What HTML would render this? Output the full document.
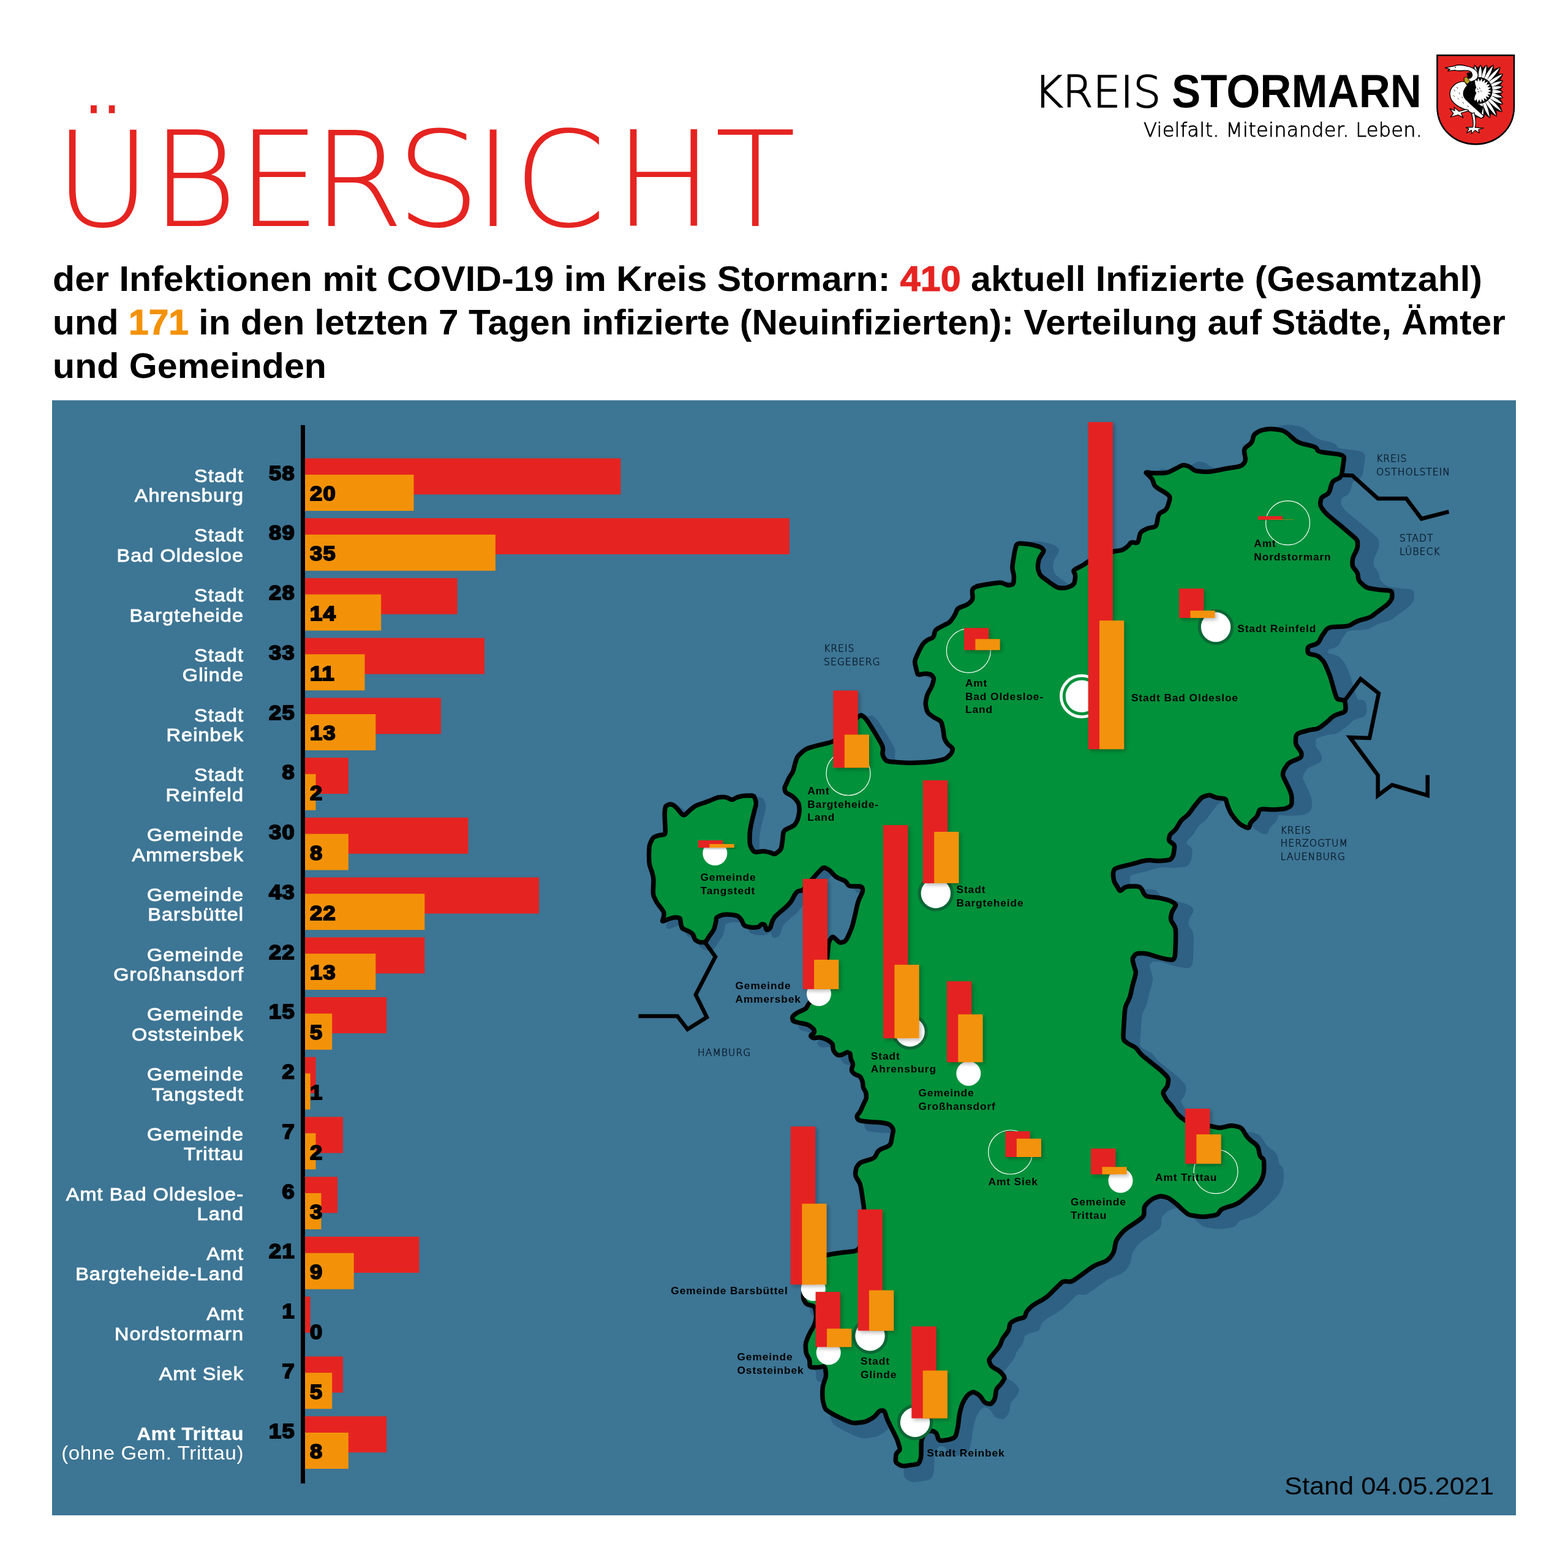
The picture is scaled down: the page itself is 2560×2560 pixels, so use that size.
<!DOCTYPE html>
<html lang="de"><head><meta charset="utf-8"><title>Übersicht COVID-19 Kreis Stormarn</title>
<style>
html,body{margin:0;padding:0;background:#fff;}
body{width:2560px;height:2560px;overflow:hidden;}
svg{display:block;}
text{font-family:"Liberation Sans", sans-serif;}
.lab{fill:#fff;font-size:30px;letter-spacing:1.0px;stroke:#fff;stroke-width:0.9px;text-anchor:end;}
.labb{fill:#fff;font-size:30px;letter-spacing:0.6px;font-weight:bold;stroke:#fff;stroke-width:0.3px;text-anchor:end;}
.labl{fill:#fff;font-size:30.5px;letter-spacing:0.6px;text-anchor:end;}
.num{fill:#000;font-size:33px;font-weight:bold;stroke:#000;stroke-width:2px;letter-spacing:1.3px;}
.ml{fill:#000;font-size:16.2px;font-weight:bold;letter-spacing:0.84px;}
.nl{fill:#0b1d2e;font-size:15.6px;letter-spacing:1.0px;font-family:"DejaVu Sans Light","DejaVu Sans","Liberation Sans",sans-serif;font-weight:200;stroke:#0b1d2e;stroke-width:0.55px;}
.hd{fill:#000;font-size:57px;font-weight:bold;}
</style></head><body>
<svg width="2560" height="2560" viewBox="0 0 2560 2560">
<defs>
<filter id="ds" x="-20%" y="-20%" width="160%" height="140%"><feGaussianBlur in="SourceAlpha" stdDeviation="3"/><feOffset dx="3" dy="3"/><feComponentTransfer><feFuncA type="linear" slope="0.28"/></feComponentTransfer><feMerge><feMergeNode/><feMergeNode in="SourceGraphic"/></feMerge></filter>
<clipPath id="panel"><rect x="85" y="653.5" width="2390" height="1820.5"/></clipPath>
<path id="land" d="M1607.1 954.8 Q1613.0 953.8 1619.7 952.8 L1627.3 951.7 Q1634.0 950.7 1637.8 952.4 L1642.2 954.3 Q1646.0 956.0 1648.8 955.3 L1651.8 954.5 Q1654.6 953.8 1655.0 949.8 L1655.3 945.4 Q1655.7 941.4 1654.7 936.8 L1653.5 931.6 Q1652.5 927.0 1653.2 922.3 L1653.9 917.1 Q1654.6 912.4 1655.3 908.4 L1656.0 904.0 Q1656.7 900.0 1657.8 895.8 L1658.9 891.2 Q1660.0 887.0 1666.2 887.3 L1673.3 887.7 Q1679.5 888.0 1685.7 889.6 L1692.8 891.4 Q1699.0 893.0 1700.9 894.9 L1703.1 897.1 Q1705.0 899.0 1702.1 903.3 L1698.9 908.1 Q1696.0 912.4 1695.4 917.1 L1694.6 922.3 Q1694.0 927.0 1695.3 930.9 L1696.7 935.4 Q1698.0 939.3 1703.3 943.3 L1709.4 947.8 Q1714.7 951.8 1718.6 954.4 L1723.1 957.4 Q1727.0 960.0 1731.7 960.0 L1736.9 960.0 Q1741.6 960.0 1745.6 958.0 L1750.0 955.8 Q1754.0 953.8 1754.6 949.2 L1755.4 943.9 Q1756.0 939.3 1754.7 936.6 L1753.3 933.7 Q1752.0 931.0 1757.3 928.4 L1763.2 925.4 Q1768.5 922.8 1771.2 920.8 L1774.1 918.6 Q1776.8 916.6 1781.0 915.1 L1785.8 913.5 Q1790.0 912.0 1794.8 909.8 L1800.2 907.2 Q1805.0 905.0 1809.4 903.4 L1814.2 901.6 Q1818.6 900.0 1822.9 899.5 L1827.7 898.9 Q1832.0 898.4 1835.1 896.3 L1838.7 893.8 Q1841.8 891.7 1843.4 889.6 L1845.2 887.1 Q1846.8 885.0 1850.4 885.6 L1854.4 886.2 Q1858.0 886.8 1859.2 881.0 L1860.5 874.4 Q1861.7 868.6 1866.0 866.5 L1870.7 864.1 Q1875.0 862.0 1879.2 861.4 L1883.8 860.6 Q1888.0 860.0 1889.1 853.2 L1890.4 845.5 Q1891.5 838.7 1895.7 836.6 L1900.5 834.1 Q1904.7 832.0 1906.7 825.6 L1909.0 818.4 Q1911.0 812.0 1909.0 810.0 L1906.7 807.6 Q1904.7 805.6 1898.4 801.9 L1891.3 797.7 Q1885.0 794.0 1883.9 790.3 L1882.7 786.1 Q1881.6 782.4 1879.5 780.3 L1877.1 777.9 Q1875.0 775.8 1873.4 774.2 L1871.6 772.4 Q1870.0 770.8 1873.7 771.3 L1877.9 772.0 Q1881.6 772.5 1889.0 772.5 L1897.3 772.5 Q1904.7 772.5 1909.0 770.4 L1913.7 768.0 Q1918.0 765.9 1922.2 763.7 L1926.8 761.2 Q1931.0 759.0 1934.2 759.6 L1937.8 760.4 Q1941.0 761.0 1944.2 763.6 L1947.8 766.4 Q1951.0 769.0 1958.4 769.6 L1966.6 770.2 Q1974.0 770.8 1981.5 769.2 L1990.0 767.5 Q1997.5 765.9 2006.9 764.3 L2017.6 762.6 Q2027.0 761.0 2029.2 758.3 L2031.8 755.3 Q2034.0 752.6 2032.9 746.2 L2031.7 739.1 Q2030.6 732.7 2034.9 729.5 L2039.7 726.0 Q2044.0 722.8 2045.0 718.6 L2046.0 713.8 Q2047.0 709.6 2050.2 707.5 L2053.8 705.1 Q2057.0 703.0 2062.3 701.9 L2068.4 700.7 Q2073.7 699.6 2081.2 700.7 L2089.5 701.9 Q2097.0 703.0 2103.9 709.3 L2111.8 716.5 Q2118.7 722.8 2128.3 724.9 L2139.0 727.3 Q2148.6 729.4 2149.7 732.1 L2150.9 735.0 Q2152.0 737.7 2165.8 739.3 L2181.2 741.1 Q2195.0 742.7 2194.4 747.9 L2193.6 753.8 Q2193.0 759.0 2192.0 765.4 L2191.0 772.6 Q2190.0 779.0 2185.2 781.1 L2179.8 783.6 Q2175.0 785.7 2173.4 792.1 L2171.6 799.2 Q2170.0 805.6 2165.8 807.6 L2161.2 810.0 Q2157.0 812.0 2156.4 816.3 L2155.6 821.2 Q2155.0 825.5 2158.2 829.7 L2161.8 834.5 Q2165.0 838.7 2171.4 843.9 L2178.6 849.8 Q2185.0 855.0 2191.4 860.4 L2198.6 866.6 Q2205.0 872.0 2208.7 875.2 L2212.8 878.8 Q2216.5 882.0 2216.5 886.2 L2216.5 890.8 Q2216.5 895.0 2213.8 900.3 L2210.7 906.3 Q2208.0 911.6 2208.0 915.9 L2208.0 920.7 Q2208.0 925.0 2210.7 928.1 L2213.8 931.7 Q2216.5 934.8 2217.0 939.0 L2217.5 943.8 Q2218.0 948.0 2222.2 951.7 L2226.8 955.9 Q2231.0 959.6 2237.4 960.7 L2244.6 961.9 Q2251.0 963.0 2258.0 963.5 L2265.8 964.1 Q2272.8 964.6 2272.8 968.9 L2272.8 973.6 Q2272.8 977.9 2270.1 981.1 L2267.2 984.6 Q2264.5 987.8 2259.2 991.5 L2253.3 995.7 Q2248.0 999.4 2244.8 1002.1 L2241.2 1005.0 Q2238.0 1007.7 2230.6 1009.8 L2222.2 1012.2 Q2214.8 1014.3 2210.5 1017.0 L2205.8 1019.9 Q2201.5 1022.6 2190.9 1023.0 L2179.0 1023.6 Q2168.4 1024.0 2165.2 1028.3 L2161.7 1033.2 Q2158.5 1037.5 2156.4 1041.7 L2154.0 1046.5 Q2151.9 1050.7 2146.5 1052.3 L2140.4 1054.1 Q2135.0 1055.7 2135.0 1059.3 L2135.0 1063.4 Q2135.0 1067.0 2140.4 1068.2 L2146.5 1069.4 Q2151.9 1070.6 2155.1 1073.8 L2158.6 1077.3 Q2161.8 1080.5 2165.0 1087.9 L2168.5 1096.3 Q2171.7 1103.7 2173.7 1111.2 L2176.0 1119.5 Q2178.0 1127.0 2179.6 1131.8 L2181.4 1137.2 Q2183.0 1142.0 2187.2 1142.3 L2191.8 1142.7 Q2196.0 1143.0 2196.5 1149.1 L2197.0 1155.9 Q2197.5 1162.0 2191.3 1163.9 L2184.2 1166.1 Q2178.0 1168.0 2173.8 1171.8 L2169.2 1176.2 Q2165.0 1180.0 2160.8 1183.2 L2156.2 1186.8 Q2152.0 1190.0 2147.7 1190.5 L2142.9 1191.0 Q2138.6 1191.5 2131.4 1193.6 L2123.2 1195.9 Q2116.0 1198.0 2115.7 1203.4 L2115.3 1209.6 Q2115.0 1215.0 2118.2 1219.3 L2121.8 1224.2 Q2125.0 1228.5 2124.8 1231.2 L2124.7 1234.3 Q2124.5 1237.0 2117.9 1239.6 L2110.6 1242.4 Q2104.0 1245.0 2101.3 1249.2 L2098.2 1253.8 Q2095.5 1258.0 2095.0 1260.6 L2094.5 1263.4 Q2094.0 1266.0 2096.6 1271.1 L2099.4 1276.9 Q2102.0 1282.0 2104.2 1286.8 L2106.6 1292.2 Q2108.8 1297.0 2108.9 1302.8 L2108.9 1309.2 Q2109.0 1315.0 2105.8 1316.8 L2102.1 1318.7 Q2098.9 1320.5 2092.5 1321.0 L2085.4 1321.5 Q2079.0 1322.0 2071.8 1321.5 L2063.7 1321.0 Q2056.5 1320.5 2055.4 1324.3 L2054.1 1328.7 Q2053.0 1332.5 2049.3 1335.9 L2045.2 1339.6 Q2041.5 1343.0 2040.7 1346.2 L2039.8 1349.8 Q2039.0 1353.0 2034.0 1350.6 L2028.5 1347.9 Q2023.5 1345.5 2019.2 1340.2 L2014.3 1334.3 Q2010.0 1329.0 2007.9 1324.2 L2005.6 1318.8 Q2003.5 1314.0 2002.9 1310.8 L2002.1 1307.2 Q2001.5 1304.0 1996.2 1303.5 L1990.3 1303.0 Q1985.0 1302.5 1981.8 1300.9 L1978.2 1299.1 Q1975.0 1297.5 1970.8 1298.8 L1966.2 1300.2 Q1962.0 1301.5 1958.3 1306.0 L1954.2 1311.0 Q1950.5 1315.5 1947.1 1320.1 L1943.4 1325.4 Q1940.0 1330.0 1936.2 1333.1 L1931.8 1336.5 Q1928.0 1339.6 1925.3 1344.4 L1922.3 1349.7 Q1919.6 1354.5 1916.4 1357.2 L1912.9 1360.1 Q1909.7 1362.8 1909.2 1366.0 L1908.5 1369.5 Q1908.0 1372.7 1911.2 1374.8 L1914.8 1377.3 Q1918.0 1379.4 1917.4 1384.7 L1916.6 1390.7 Q1916.0 1396.0 1914.4 1398.6 L1912.6 1401.4 Q1911.0 1404.0 1904.8 1404.6 L1897.7 1405.3 Q1891.5 1405.9 1885.1 1405.3 L1878.0 1404.6 Q1871.6 1404.0 1864.2 1406.2 L1855.8 1408.6 Q1848.4 1410.8 1839.3 1412.9 L1829.1 1415.4 Q1820.0 1417.5 1819.0 1420.1 L1818.0 1423.1 Q1817.0 1425.7 1817.5 1430.0 L1818.1 1434.7 Q1818.6 1439.0 1820.6 1442.2 L1823.0 1445.8 Q1825.0 1449.0 1826.1 1451.1 L1827.4 1453.4 Q1828.5 1455.5 1831.7 1452.8 L1835.3 1449.7 Q1838.5 1447.0 1845.9 1447.0 L1854.3 1447.0 Q1861.7 1447.0 1864.4 1452.4 L1867.3 1458.4 Q1870.0 1463.8 1876.9 1464.3 L1884.6 1465.0 Q1891.5 1465.5 1897.7 1467.1 L1904.8 1468.9 Q1911.0 1470.5 1914.2 1472.6 L1917.8 1474.9 Q1921.0 1477.0 1918.4 1480.7 L1915.6 1485.0 Q1913.0 1488.7 1912.4 1493.0 L1911.6 1497.7 Q1911.0 1502.0 1913.8 1506.2 L1916.8 1510.8 Q1919.6 1515.0 1919.6 1522.4 L1919.6 1530.6 Q1919.6 1538.0 1919.1 1547.6 L1918.5 1558.4 Q1918.0 1568.0 1911.6 1567.0 L1904.4 1566.0 Q1898.0 1565.0 1889.6 1562.3 L1880.0 1559.3 Q1871.6 1556.6 1866.3 1556.6 L1860.3 1556.6 Q1855.0 1556.6 1852.9 1559.3 L1850.5 1562.3 Q1848.4 1565.0 1849.5 1569.2 L1850.6 1573.8 Q1851.7 1578.0 1852.8 1581.2 L1853.9 1584.8 Q1855.0 1588.0 1852.9 1595.4 L1850.5 1603.6 Q1848.4 1611.0 1847.3 1616.4 L1846.1 1622.4 Q1845.0 1627.8 1842.4 1633.1 L1839.4 1639.1 Q1836.8 1644.4 1836.2 1652.9 L1835.6 1662.4 Q1835.0 1670.9 1834.5 1679.4 L1834.0 1688.9 Q1833.5 1697.4 1836.2 1699.5 L1839.1 1701.9 Q1841.8 1704.0 1846.0 1706.1 L1850.8 1708.5 Q1855.0 1710.6 1857.1 1713.8 L1859.6 1717.3 Q1861.7 1720.5 1866.9 1724.8 L1872.8 1729.5 Q1878.0 1733.8 1883.4 1738.0 L1889.4 1742.8 Q1894.8 1747.0 1899.0 1751.2 L1903.8 1755.8 Q1908.0 1760.0 1907.5 1764.3 L1906.9 1769.2 Q1906.4 1773.5 1903.7 1776.7 L1900.7 1780.3 Q1898.0 1783.5 1900.1 1787.7 L1902.6 1792.5 Q1904.7 1796.7 1907.4 1799.4 L1910.3 1802.3 Q1913.0 1805.0 1915.9 1809.5 L1919.1 1814.5 Q1922.0 1819.0 1926.2 1822.5 L1930.8 1826.5 Q1935.0 1830.0 1941.4 1831.9 L1948.6 1834.1 Q1955.0 1836.0 1961.7 1836.6 L1969.3 1837.4 Q1976.0 1838.0 1980.8 1839.3 L1986.2 1840.7 Q1991.0 1842.0 1997.3 1840.4 L2004.4 1838.6 Q2010.7 1837.0 2015.9 1838.3 L2021.8 1839.7 Q2027.0 1841.0 2030.2 1846.4 L2033.8 1852.6 Q2037.0 1858.0 2042.4 1862.2 L2048.4 1866.8 Q2053.8 1871.0 2054.8 1876.4 L2056.0 1882.6 Q2057.0 1888.0 2059.1 1889.6 L2061.6 1891.4 Q2063.7 1893.0 2063.7 1900.4 L2063.7 1908.6 Q2063.7 1916.0 2061.6 1921.3 L2059.1 1927.2 Q2057.0 1932.5 2051.7 1937.8 L2045.8 1943.7 Q2040.5 1949.0 2034.2 1954.3 L2027.0 1960.3 Q2020.7 1965.6 2012.2 1968.3 L2002.5 1971.2 Q1994.0 1973.9 1991.9 1977.1 L1989.6 1980.6 Q1987.5 1983.8 1980.0 1984.8 L1971.5 1986.0 Q1964.0 1987.0 1956.6 1986.0 L1948.4 1984.8 Q1941.0 1983.8 1937.8 1981.1 L1934.2 1978.2 Q1931.0 1975.5 1927.8 1972.3 L1924.2 1968.8 Q1921.0 1965.6 1916.8 1962.4 L1912.2 1958.9 Q1908.0 1955.7 1903.8 1954.6 L1899.0 1953.5 Q1894.8 1952.4 1890.5 1953.9 L1885.8 1955.5 Q1881.5 1957.0 1877.2 1960.8 L1872.3 1965.2 Q1868.0 1969.0 1868.0 1974.3 L1868.0 1980.2 Q1868.0 1985.5 1863.8 1988.7 L1859.2 1992.2 Q1855.0 1995.4 1848.6 1999.7 L1841.4 2004.4 Q1835.0 2008.7 1830.8 2013.9 L1826.2 2019.8 Q1822.0 2025.0 1820.9 2031.4 L1819.7 2038.6 Q1818.6 2045.0 1815.4 2049.2 L1811.9 2053.8 Q1808.7 2058.0 1801.3 2060.8 L1792.9 2063.8 Q1785.5 2066.6 1779.1 2071.4 L1772.0 2076.7 Q1765.6 2081.5 1760.3 2085.2 L1754.3 2089.3 Q1749.0 2093.0 1744.8 2092.5 L1740.0 2092.0 Q1735.8 2091.5 1732.6 2094.5 L1729.1 2098.0 Q1725.9 2101.0 1720.5 2106.4 L1714.4 2112.6 Q1709.0 2118.0 1701.6 2122.2 L1693.4 2126.8 Q1686.0 2131.0 1682.8 2134.2 L1679.2 2137.8 Q1676.0 2141.0 1675.0 2144.2 L1673.9 2147.8 Q1672.9 2151.0 1668.8 2151.9 L1664.1 2153.0 Q1660.0 2153.9 1656.5 2155.9 L1652.5 2158.0 Q1649.0 2160.0 1648.4 2164.0 L1647.6 2168.5 Q1647.0 2172.5 1643.7 2176.5 L1640.1 2181.0 Q1636.8 2185.0 1635.5 2188.9 L1634.0 2193.4 Q1632.7 2197.3 1629.4 2201.3 L1625.6 2205.8 Q1622.3 2209.8 1619.6 2213.1 L1616.7 2216.7 Q1614.0 2220.0 1615.3 2223.4 L1616.7 2227.1 Q1618.0 2230.5 1622.7 2233.2 L1628.0 2236.1 Q1632.7 2238.8 1635.4 2242.1 L1638.3 2245.7 Q1641.0 2249.0 1639.0 2252.4 L1636.7 2256.1 Q1634.7 2259.5 1632.1 2262.1 L1629.1 2265.1 Q1626.5 2267.7 1625.8 2273.0 L1625.1 2279.0 Q1624.4 2284.3 1622.4 2287.0 L1620.0 2289.9 Q1618.0 2292.6 1614.7 2291.9 L1611.1 2291.2 Q1607.8 2290.5 1605.1 2286.5 L1602.2 2282.0 Q1599.5 2278.0 1596.1 2276.0 L1592.4 2273.9 Q1589.0 2271.9 1585.7 2273.9 L1582.1 2276.0 Q1578.8 2278.0 1576.2 2282.7 L1573.2 2287.9 Q1570.6 2292.6 1569.3 2297.8 L1567.7 2303.8 Q1566.4 2309.0 1565.6 2315.7 L1564.8 2323.2 Q1564.0 2329.9 1562.7 2335.2 L1561.3 2341.1 Q1560.0 2346.4 1556.8 2347.7 L1553.1 2349.3 Q1549.9 2350.6 1544.5 2351.2 L1538.4 2352.0 Q1533.0 2352.6 1531.7 2348.6 L1530.3 2344.0 Q1529.0 2340.0 1527.1 2338.7 L1524.9 2337.3 Q1523.0 2336.0 1519.5 2336.3 L1515.5 2336.7 Q1512.0 2337.0 1509.4 2341.4 L1506.6 2346.2 Q1504.0 2350.6 1504.0 2359.8 L1504.0 2370.3 Q1504.0 2379.5 1502.7 2382.9 L1501.3 2386.6 Q1500.0 2390.0 1496.1 2390.6 L1491.6 2391.4 Q1487.7 2392.0 1483.0 2392.6 L1477.7 2393.4 Q1473.0 2394.0 1469.4 2392.0 L1465.5 2389.8 Q1461.9 2387.8 1462.3 2383.1 L1462.6 2377.7 Q1463.0 2373.0 1465.2 2371.1 L1467.8 2368.9 Q1470.0 2367.0 1468.4 2361.8 L1466.6 2355.8 Q1465.0 2350.6 1462.3 2345.3 L1459.4 2339.3 Q1456.7 2334.0 1454.0 2328.7 L1451.1 2322.7 Q1448.4 2317.4 1447.0 2312.8 L1445.4 2307.6 Q1444.0 2303.0 1441.4 2303.0 L1438.6 2303.0 Q1436.0 2303.0 1433.3 2306.3 L1430.4 2310.0 Q1427.7 2313.3 1423.0 2316.0 L1417.7 2318.9 Q1413.0 2321.6 1406.4 2322.2 L1399.1 2323.0 Q1392.5 2323.6 1389.1 2322.3 L1385.4 2320.8 Q1382.0 2319.5 1376.1 2316.8 L1369.4 2313.7 Q1363.5 2311.0 1358.2 2307.8 L1352.3 2304.1 Q1347.0 2300.9 1345.7 2295.6 L1344.1 2289.6 Q1342.8 2284.3 1342.8 2277.7 L1342.8 2270.2 Q1342.8 2263.6 1344.8 2258.3 L1347.0 2252.3 Q1349.0 2247.0 1348.4 2241.7 L1347.6 2235.8 Q1347.0 2230.5 1343.7 2231.1 L1339.9 2231.9 Q1336.6 2232.5 1331.9 2232.5 L1326.7 2232.5 Q1322.0 2232.5 1322.0 2228.5 L1322.0 2224.0 Q1322.0 2220.0 1320.1 2216.7 L1317.9 2213.1 Q1316.0 2209.8 1315.6 2204.4 L1315.3 2198.4 Q1314.9 2193.0 1317.2 2187.8 L1319.7 2181.8 Q1322.0 2176.6 1324.7 2171.9 L1327.7 2166.7 Q1330.4 2162.0 1331.2 2157.5 L1332.2 2152.5 Q1333.0 2148.0 1332.2 2143.2 L1331.2 2137.8 Q1330.4 2133.0 1325.8 2131.7 L1320.6 2130.3 Q1316.0 2129.0 1314.3 2125.7 L1312.4 2122.0 Q1310.7 2118.7 1311.8 2107.9 L1312.9 2095.8 Q1314.0 2085.0 1315.9 2077.0 L1318.1 2068.0 Q1320.0 2060.0 1329.0 2056.5 L1339.0 2052.5 Q1348.0 2049.0 1356.5 2047.7 L1366.2 2046.3 Q1374.7 2045.0 1383.7 2044.0 L1393.8 2043.0 Q1402.8 2042.0 1405.1 2031.8 L1407.7 2020.2 Q1410.0 2010.0 1410.3 1999.0 L1410.7 1986.7 Q1411.0 1975.7 1410.0 1968.3 L1408.8 1959.9 Q1407.8 1952.5 1406.7 1946.1 L1405.6 1939.0 Q1404.5 1932.6 1401.8 1928.4 L1398.7 1923.6 Q1396.0 1919.4 1396.6 1915.1 L1397.3 1910.3 Q1397.9 1906.0 1400.0 1903.4 L1402.4 1900.4 Q1404.5 1897.8 1411.9 1895.6 L1420.3 1893.2 Q1427.7 1891.0 1429.7 1886.8 L1432.0 1882.2 Q1434.0 1878.0 1440.4 1875.3 L1447.6 1872.4 Q1454.0 1869.7 1454.8 1865.0 L1455.8 1859.7 Q1456.6 1855.0 1457.3 1851.5 L1458.2 1847.5 Q1458.9 1844.0 1456.9 1841.3 L1454.7 1838.3 Q1452.7 1835.6 1448.3 1834.6 L1443.2 1833.5 Q1438.8 1832.5 1432.3 1832.2 L1425.1 1832.0 Q1418.6 1831.7 1413.1 1831.0 L1407.0 1830.1 Q1401.5 1829.4 1400.5 1827.2 L1399.4 1824.6 Q1398.4 1822.4 1400.4 1819.9 L1402.6 1817.2 Q1404.6 1814.7 1406.3 1810.7 L1408.3 1806.2 Q1410.0 1802.2 1411.5 1799.3 L1413.2 1795.9 Q1414.7 1793.0 1414.4 1790.0 L1414.2 1786.6 Q1413.9 1783.6 1412.4 1781.1 L1410.8 1778.3 Q1409.3 1775.8 1409.0 1772.8 L1408.8 1769.5 Q1408.5 1766.5 1407.3 1763.5 L1405.8 1760.2 Q1404.6 1757.2 1401.6 1756.2 L1398.3 1755.0 Q1395.3 1754.0 1393.5 1752.0 L1391.6 1749.9 Q1389.8 1747.9 1390.8 1744.4 L1392.0 1740.5 Q1393.0 1737.0 1391.7 1734.5 L1390.3 1731.8 Q1389.0 1729.3 1388.8 1726.3 L1388.5 1723.0 Q1388.3 1720.0 1386.6 1719.2 L1384.6 1718.4 Q1382.9 1717.6 1380.4 1719.1 L1377.5 1720.8 Q1375.0 1722.3 1372.5 1722.5 L1369.8 1722.8 Q1367.3 1723.0 1365.1 1720.5 L1362.5 1717.8 Q1360.3 1715.3 1360.1 1711.8 L1359.8 1707.9 Q1359.6 1704.4 1357.1 1702.4 L1354.3 1700.0 Q1351.8 1698.0 1347.8 1696.6 L1343.4 1694.9 Q1339.4 1693.5 1335.4 1694.0 L1331.0 1694.5 Q1327.0 1695.0 1325.7 1693.7 L1324.3 1692.3 Q1323.0 1691.0 1325.2 1689.3 L1327.8 1687.5 Q1330.0 1685.8 1329.5 1683.8 L1329.0 1681.6 Q1328.5 1679.6 1325.5 1677.4 L1322.0 1674.8 Q1319.0 1672.6 1314.5 1671.8 L1309.5 1670.8 Q1305.0 1670.0 1301.6 1669.0 L1297.7 1668.0 Q1294.3 1667.0 1294.1 1664.6 L1293.8 1661.8 Q1293.6 1659.4 1296.3 1657.4 L1299.3 1655.0 Q1302.0 1653.0 1306.5 1651.1 L1311.5 1648.9 Q1316.0 1647.0 1317.5 1644.0 L1319.2 1640.6 Q1320.7 1637.6 1325.3 1633.6 L1330.4 1629.0 Q1335.0 1625.0 1339.2 1613.8 L1343.8 1601.2 Q1348.0 1590.0 1349.0 1579.8 L1350.0 1568.2 Q1351.0 1558.0 1351.6 1551.6 L1352.2 1544.4 Q1352.8 1538.0 1354.9 1534.8 L1357.3 1531.2 Q1359.4 1528.0 1363.1 1531.8 L1367.3 1536.0 Q1371.0 1539.8 1374.2 1538.7 L1377.8 1537.6 Q1381.0 1536.5 1384.2 1529.6 L1387.7 1521.9 Q1390.9 1515.0 1392.5 1508.6 L1394.2 1501.4 Q1395.8 1495.0 1397.4 1487.6 L1399.2 1479.3 Q1400.8 1471.9 1403.4 1466.5 L1406.4 1460.4 Q1409.0 1455.0 1408.5 1452.4 L1407.9 1449.6 Q1407.4 1447.0 1400.6 1447.0 L1392.8 1447.0 Q1386.0 1447.0 1384.4 1444.3 L1382.6 1441.4 Q1381.0 1438.7 1375.7 1436.6 L1369.7 1434.1 Q1364.4 1432.0 1361.2 1428.3 L1357.6 1424.2 Q1354.4 1420.5 1351.2 1418.9 L1347.7 1417.2 Q1344.5 1415.6 1341.3 1418.8 L1337.8 1422.3 Q1334.6 1425.5 1330.6 1430.1 L1326.0 1435.4 Q1322.0 1440.0 1318.2 1444.5 L1314.0 1449.5 Q1310.2 1454.0 1307.7 1454.2 L1304.9 1454.5 Q1302.4 1454.7 1300.9 1456.4 L1299.3 1458.3 Q1297.8 1460.0 1295.8 1464.0 L1293.5 1468.5 Q1291.5 1472.5 1288.5 1475.5 L1285.2 1478.9 Q1282.2 1481.9 1279.2 1484.4 L1275.9 1487.1 Q1272.9 1489.6 1270.2 1492.1 L1267.1 1494.9 Q1264.4 1497.4 1263.2 1499.8 L1261.7 1502.6 Q1260.5 1505.0 1259.5 1508.5 L1258.4 1512.5 Q1257.4 1516.0 1255.4 1517.0 L1253.2 1518.0 Q1251.2 1519.0 1250.5 1516.1 L1249.6 1512.7 Q1248.9 1509.8 1247.1 1509.3 L1245.2 1508.8 Q1243.4 1508.3 1241.9 1510.0 L1240.3 1512.0 Q1238.8 1513.7 1234.8 1513.9 L1230.3 1514.2 Q1226.3 1514.4 1222.6 1513.4 L1218.4 1512.4 Q1214.7 1511.4 1213.5 1508.4 L1212.0 1505.0 Q1210.8 1502.0 1208.8 1499.8 L1206.6 1497.2 Q1204.6 1495.0 1199.6 1494.3 L1194.0 1493.4 Q1189.0 1492.7 1186.1 1493.0 L1182.7 1493.2 Q1179.8 1493.5 1176.6 1494.7 L1172.9 1496.2 Q1169.7 1497.4 1169.4 1499.8 L1169.2 1502.6 Q1168.9 1505.0 1167.9 1509.0 L1166.8 1513.6 Q1165.8 1517.6 1163.3 1521.1 L1160.5 1524.9 Q1158.0 1528.4 1156.0 1531.6 L1153.8 1535.3 Q1151.8 1538.5 1148.8 1538.5 L1145.5 1538.5 Q1142.5 1538.5 1140.0 1537.3 L1137.2 1535.9 Q1134.7 1534.7 1133.7 1531.7 L1132.6 1528.3 Q1131.6 1525.3 1129.6 1523.8 L1127.4 1522.2 Q1125.4 1520.7 1121.7 1519.2 L1117.5 1517.5 Q1113.8 1516.0 1113.0 1513.5 L1112.2 1510.8 Q1111.4 1508.3 1111.2 1505.3 L1110.9 1502.0 Q1110.7 1499.0 1107.9 1498.5 L1104.8 1497.9 Q1102.0 1497.4 1098.5 1498.4 L1094.7 1499.5 Q1091.2 1500.5 1087.9 1501.9 L1084.3 1503.6 Q1081.0 1505.0 1081.8 1502.6 L1082.7 1499.8 Q1083.5 1497.4 1083.8 1494.9 L1084.0 1492.1 Q1084.3 1489.6 1082.5 1487.1 L1080.6 1484.4 Q1078.8 1481.9 1076.8 1479.4 L1074.6 1476.5 Q1072.6 1474.0 1070.6 1470.1 L1068.4 1465.6 Q1066.4 1461.7 1066.4 1458.2 L1066.4 1454.3 Q1066.4 1450.8 1066.7 1445.8 L1066.9 1440.3 Q1067.2 1435.3 1066.4 1431.8 L1065.6 1427.9 Q1064.8 1424.4 1063.3 1420.4 L1061.7 1416.0 Q1060.2 1412.0 1059.9 1407.0 L1059.7 1401.5 Q1059.4 1396.5 1059.7 1391.0 L1059.9 1384.9 Q1060.2 1379.4 1062.2 1375.4 L1064.4 1371.0 Q1066.4 1367.0 1069.4 1366.0 L1072.7 1364.8 Q1075.7 1363.8 1079.2 1363.3 L1083.1 1362.8 Q1086.6 1362.3 1086.3 1356.8 L1086.1 1350.7 Q1085.8 1345.2 1085.5 1339.2 L1085.3 1332.6 Q1085.0 1326.6 1085.5 1323.1 L1086.1 1319.2 Q1086.6 1315.7 1089.1 1314.7 L1091.8 1313.6 Q1094.3 1312.6 1096.8 1313.6 L1099.5 1314.7 Q1102.0 1315.7 1106.5 1321.2 L1111.5 1327.3 Q1116.0 1332.8 1119.5 1329.3 L1123.5 1325.5 Q1127.0 1322.0 1130.0 1319.8 L1133.3 1317.2 Q1136.3 1315.0 1140.3 1313.7 L1144.7 1312.3 Q1148.7 1311.0 1152.6 1309.5 L1157.1 1307.9 Q1161.0 1306.4 1164.5 1304.9 L1168.5 1303.2 Q1172.0 1301.7 1176.0 1301.5 L1180.4 1301.2 Q1184.4 1301.0 1187.9 1302.7 L1191.8 1304.7 Q1195.3 1306.4 1197.8 1304.9 L1200.5 1303.2 Q1203.0 1301.7 1206.0 1301.0 L1209.4 1300.1 Q1212.4 1299.4 1218.4 1299.1 L1225.0 1298.9 Q1231.0 1298.6 1232.2 1302.6 L1233.7 1307.0 Q1234.9 1311.0 1233.7 1316.0 L1232.2 1321.6 Q1231.0 1326.6 1229.5 1332.6 L1227.8 1339.2 Q1226.3 1345.2 1225.6 1350.2 L1224.7 1355.7 Q1224.0 1360.7 1224.0 1366.7 L1224.0 1373.4 Q1224.0 1379.4 1226.2 1383.4 L1228.8 1387.8 Q1231.0 1391.8 1236.0 1391.1 L1241.5 1390.2 Q1246.5 1389.5 1250.0 1390.2 L1253.9 1391.1 Q1257.4 1391.8 1259.8 1392.8 L1262.6 1393.9 Q1265.0 1394.9 1268.3 1392.4 L1271.9 1389.5 Q1275.2 1387.0 1276.0 1382.5 L1276.8 1377.5 Q1277.6 1373.0 1278.0 1367.6 L1278.6 1361.4 Q1279.0 1356.0 1284.5 1353.5 L1290.7 1350.8 Q1296.2 1348.3 1298.2 1345.3 L1300.4 1342.0 Q1302.4 1339.0 1303.4 1334.0 L1304.5 1328.5 Q1305.5 1323.5 1305.0 1319.5 L1304.5 1315.0 Q1304.0 1311.0 1301.0 1307.5 L1297.7 1303.5 Q1294.7 1300.0 1290.7 1298.1 L1286.2 1295.9 Q1282.2 1294.0 1281.7 1291.4 L1281.2 1288.6 Q1280.7 1286.0 1281.7 1284.1 L1282.8 1281.9 Q1283.8 1280.0 1285.1 1276.8 L1286.7 1273.2 Q1288.0 1270.0 1290.2 1266.8 L1292.6 1263.1 Q1294.8 1259.9 1295.3 1257.6 L1296.0 1255.1 Q1296.5 1252.8 1297.9 1247.4 L1299.6 1241.4 Q1301.0 1236.0 1305.4 1231.8 L1310.3 1227.2 Q1314.7 1223.0 1319.9 1221.4 L1325.8 1219.6 Q1331.0 1218.0 1340.1 1215.9 L1350.3 1213.5 Q1359.4 1211.4 1366.0 1207.8 L1373.4 1203.6 Q1380.0 1200.0 1384.8 1192.0 L1390.2 1183.0 Q1395.0 1175.0 1398.5 1172.3 L1402.3 1169.4 Q1405.8 1166.7 1408.4 1168.8 L1411.4 1171.2 Q1414.0 1173.3 1419.3 1181.8 L1425.3 1191.3 Q1430.6 1199.8 1434.2 1206.2 L1438.4 1213.3 Q1442.0 1219.7 1441.5 1224.0 L1441.0 1228.7 Q1440.5 1233.0 1442.6 1236.2 L1444.9 1239.8 Q1447.0 1243.0 1452.3 1243.5 L1458.4 1244.0 Q1463.7 1244.5 1472.4 1244.9 L1482.3 1245.4 Q1491.0 1245.8 1500.9 1245.1 L1512.1 1244.4 Q1522.0 1243.7 1528.7 1242.4 L1536.1 1240.8 Q1542.8 1239.5 1546.1 1236.8 L1549.7 1233.7 Q1553.0 1231.0 1554.0 1228.1 L1555.0 1224.9 Q1556.0 1222.0 1553.1 1219.7 L1549.9 1217.0 Q1547.0 1214.7 1545.3 1212.0 L1543.5 1209.1 Q1541.8 1206.4 1541.1 1201.1 L1540.4 1195.2 Q1539.7 1189.9 1538.7 1185.9 L1537.6 1181.4 Q1536.6 1177.4 1532.6 1175.4 L1528.0 1173.0 Q1524.0 1171.0 1520.7 1168.4 L1517.1 1165.6 Q1513.8 1163.0 1512.8 1158.3 L1511.7 1153.1 Q1510.7 1148.4 1511.7 1143.8 L1512.8 1138.6 Q1513.8 1134.0 1516.4 1129.4 L1519.4 1124.1 Q1522.0 1119.5 1523.0 1115.5 L1524.0 1111.0 Q1525.0 1107.0 1523.4 1105.0 L1521.6 1102.8 Q1520.0 1100.8 1516.7 1100.5 L1513.0 1100.1 Q1509.7 1099.8 1506.1 1100.5 L1501.9 1101.2 Q1498.3 1101.9 1497.6 1098.9 L1496.7 1095.5 Q1496.0 1092.5 1495.0 1088.5 L1494.0 1084.0 Q1493.0 1080.0 1494.9 1075.4 L1497.1 1070.2 Q1499.0 1065.6 1501.4 1060.9 L1504.2 1055.7 Q1506.6 1051.0 1508.9 1049.0 L1511.5 1046.9 Q1513.8 1044.9 1517.1 1043.6 L1520.7 1042.1 Q1524.0 1040.8 1525.0 1036.8 L1526.0 1032.4 Q1527.0 1028.4 1530.7 1026.4 L1535.0 1024.0 Q1538.7 1022.0 1542.6 1020.0 L1547.1 1017.9 Q1551.0 1015.9 1553.7 1011.9 L1556.7 1007.5 Q1559.4 1003.5 1560.7 1000.1 L1562.2 996.4 Q1563.5 993.0 1568.8 991.1 L1574.7 988.9 Q1580.0 987.0 1582.7 984.3 L1585.7 981.4 Q1588.4 978.7 1588.0 973.4 L1587.4 967.3 Q1587.0 962.0 1589.4 960.4 L1592.2 958.6 Q1594.6 957.0 1600.5 956.0 Z"/>
</defs>
<rect width="2560" height="2560" fill="#fff"/>
<text x="88.8 246.3 386.7 509.5 647.0 773.6 838.7 1002.6 1167.2" y="368.6" font-size="216" fill="#e52421" style="font-family:'DejaVu Sans Light','DejaVu Sans','Liberation Sans',sans-serif;font-weight:200">ÜBERSICHT</text>
<text class="hd" x="86" y="474.5" textLength="2334" lengthAdjust="spacingAndGlyphs">der Infektionen mit COVID-19 im Kreis Stormarn: <tspan fill="#e52421" stroke="#e52421" stroke-width="1.2">410</tspan> aktuell Infizierte (Gesamtzahl)</text>
<text class="hd" x="86" y="545.8" textLength="2372" lengthAdjust="spacingAndGlyphs">und <tspan fill="#f39208" stroke="#f39208" stroke-width="1.2">171</tspan> in den letzten 7 Tagen infizierte (Neuinfizierten): Verteilung auf Städte, Ämter</text>
<text class="hd" x="86" y="617" textLength="447" lengthAdjust="spacingAndGlyphs">und Gemeinden</text>
<text x="1688.5" y="174.5" font-size="71" fill="#000" stroke="#000" stroke-width="1.7" style="font-family:'DejaVu Sans Light','DejaVu Sans','Liberation Sans',sans-serif;font-weight:200">KREIS</text>
<text x="1913" y="174.5" font-size="75.3" fill="#000" font-weight="bold" textLength="408" lengthAdjust="spacingAndGlyphs">STORMARN</text>
<text x="1867" y="223" font-size="32" fill="#000" stroke="#000" stroke-width="0.8" textLength="455" lengthAdjust="spacing" style="font-family:'DejaVu Sans Light','DejaVu Sans','Liberation Sans',sans-serif;font-weight:200">Vielfalt. Miteinander. Leben.</text>
<g transform="translate(2300 60) scale(0.1139)">
<path d="M408 266 H1510 V1000 C1510 1330 1250 1540 959 1540 C668 1540 408 1330 408 1000 Z" fill="#e52421" stroke="#000" stroke-width="22" stroke-linejoin="miter"/>
<path d="M916 726 Q847 578 945 400 Q1098 533 1083 696 Z M928 706 Q894 548 1029 400 Q1149 562 1098 715 Z M945 689 Q949 521 1116 400 Q1194 591 1108 736 Z M965 676 Q1016 497 1215 400 Q1239 621 1113 759 Z M987 669 Q1088 493 1314 432 Q1277 664 1113 782 Z M1010 666 Q1134 528 1355 528 Q1280 736 1108 805 Z M1034 669 Q1163 571 1355 631 Q1258 807 1097 826 Z M1056 677 Q1192 612 1355 715 Q1232 864 1083 845 Z M1076 689 Q1221 657 1355 794 Q1204 911 1064 859 Z M1092 706 Q1248 710 1355 875 Q1174 953 1043 869 Z M1104 726 Q1272 774 1355 969 Q1145 995 1019 874 Z M1112 749 Q1285 852 1343 1080 Q1111 1039 996 873 Z M1114 772 Q1260 912 1264 1147 Q1048 1055 973 867 Z M1111 796 Q1217 952 1164 1170 Q978 1044 952 856 Z M1103 818 Q1169 982 1066 1170 Q916 1017 934 841 Z M1089 837 Q1117 1011 975 1170 Q863 989 920 822 Z" fill="#000"/>
<path d="M1010 770 m-200 0 a200 200 0 1 0 400 0 a200 200 0 1 0 -400 0" fill="#000"/>
<path d="M957 586 Q933 504 947 414 Q992 493 997 579 Z M1000 579 Q994 496 1029 414 Q1054 499 1040 581 Z M1043 582 Q1058 492 1112 413 Q1116 509 1082 593 Z M1085 594 Q1129 493 1208 412 Q1181 523 1120 614 Z M1122 615 Q1199 515 1305 442 Q1243 556 1152 642 Z M1154 645 Q1237 574 1344 536 Q1272 623 1177 677 Z M1179 680 Q1253 640 1342 636 Q1275 695 1194 717 Z M1195 721 Q1265 699 1341 718 Q1274 759 1201 760 Z M1201 763 Q1272 758 1341 793 Q1268 818 1198 803 Z M1198 806 Q1275 820 1342 871 Q1258 877 1186 845 Z M1185 848 Q1274 888 1343 962 Q1244 940 1165 882 Z M1163 885 Q1261 963 1333 1071 Q1220 1007 1135 914 Z M1133 916 Q1211 1015 1257 1136 Q1162 1048 1100 939 Z M1097 940 Q1146 1041 1159 1157 Q1090 1063 1059 955 Z M1056 955 Q1080 1053 1064 1156 Q1021 1061 1017 961 Z M1013 961 Q1015 1060 976 1156 Q955 1055 974 958 Z" fill="#fff"/>
<path d="M976 740 Q942 679 949 603 Q1004 656 1017 725 Z M985 732 Q969 664 998 592 Q1035 659 1029 729 Z M997 726 Q1000 657 1047 596 Q1065 670 1040 735 Z M1009 724 Q1032 658 1094 613 Q1090 689 1048 745 Z M1022 726 Q1062 669 1134 642 Q1109 715 1054 757 Z M1034 731 Q1088 687 1164 681 Q1121 744 1056 769 Z M1043 739 Q1108 712 1183 727 Q1124 776 1054 782 Z M1051 749 Q1120 741 1188 776 Q1118 807 1049 793 Z M1055 761 Q1124 772 1179 825 Q1103 835 1041 803 Z M1055 774 Q1119 804 1158 870 Q1082 858 1031 811 Z M1053 787 Q1105 832 1124 906 Q1055 875 1019 815 Z M1046 798 Q1084 856 1082 933 Q1024 883 1006 815 Z M1037 807 Q1058 873 1035 946 Q992 883 994 813 Z M1026 813 Q1028 883 985 946 Q962 873 983 807 Z M1014 815 Q996 883 938 933 Q936 856 974 798 Z" fill="#fff"/>
<path d="M850 670 C770 740 760 850 830 910 L1040 1120 L1070 1000 C960 960 880 860 900 700 Z" fill="#000"/>
<circle cx="1005" cy="765" r="52" fill="#fff"/>
<path d="M975 745 l20 10 M1010 730 l16 14 M990 785 l22 6 M1030 770 l14 16" stroke="#000" stroke-width="8" fill="none"/>
<path d="M800 640 C680 640 590 720 590 820 C590 940 700 1000 800 1040 C880 1080 960 1130 1040 1170 L1080 1140 C1000 1060 900 980 820 900 C760 840 780 760 840 700 Z" fill="#fff" stroke="#000" stroke-width="12"/>
<path d="M650 760 l14 22 M690 720 l10 24 M640 840 l16 18 M700 880 l18 16 M720 800 l12 22 M770 940 l20 14 M840 990 l22 14 M760 860 l14 20" stroke="#000" stroke-width="7" fill="none"/>
<path d="M520 445 L650 420 C700 395 760 400 830 420 C920 440 990 480 995 550 C995 600 950 630 900 640 L840 650 L790 610 C850 590 900 570 905 530 C900 490 840 480 780 485 C730 490 700 490 660 480 L560 490 L590 465 Z" fill="#fff" stroke="#000" stroke-width="12" stroke-linejoin="round"/>
<path d="M830 520 C880 500 920 520 915 560 C900 600 870 610 850 600 Z" fill="#000"/>
<circle cx="668" cy="440" r="8" fill="#000"/>
<path d="M790 590 L830 575 L880 640 L840 680 L800 650 Z" fill="#b8a020" stroke="#000" stroke-width="8"/>
<path d="M940 1090 C960 1180 970 1240 950 1300 L1070 1310 L1000 1330 L1010 1380 L950 1340 L900 1390 L900 1340 L830 1380 L860 1320 L820 1300 L920 1295 C930 1230 920 1170 900 1100 Z" fill="#fff" stroke="#000" stroke-width="11" stroke-linejoin="round"/>
<path d="M860 1060 L750 1095 L780 1160 L710 1120 L600 1150 L640 1100 L590 1030 L660 1060 L650 1010 L720 1070 L830 1040 Z" fill="#fff" stroke="#000" stroke-width="11" stroke-linejoin="round"/>
</g>
<rect x="85" y="653.5" width="2390" height="1820.5" fill="#3d7594"/>
<g clip-path="url(#panel)">
<rect x="497.7" y="748.3" width="515.6" height="59" fill="#e52421"/>
<rect x="497.7" y="775.0" width="177.8" height="59" fill="#f39208"/>
<rect x="497.7" y="846.0" width="791.2" height="59" fill="#e52421"/>
<rect x="497.7" y="872.8" width="311.2" height="59" fill="#f39208"/>
<rect x="497.7" y="943.8" width="248.9" height="59" fill="#e52421"/>
<rect x="497.7" y="970.5" width="124.5" height="59" fill="#f39208"/>
<rect x="497.7" y="1041.5" width="293.4" height="59" fill="#e52421"/>
<rect x="497.7" y="1068.2" width="97.8" height="59" fill="#f39208"/>
<rect x="497.7" y="1139.3" width="222.2" height="59" fill="#e52421"/>
<rect x="497.7" y="1166.0" width="115.6" height="59" fill="#f39208"/>
<rect x="497.7" y="1237.0" width="71.1" height="59" fill="#e52421"/>
<rect x="497.7" y="1263.8" width="17.8" height="59" fill="#f39208"/>
<rect x="497.7" y="1334.8" width="266.7" height="59" fill="#e52421"/>
<rect x="497.7" y="1361.5" width="71.1" height="59" fill="#f39208"/>
<rect x="497.7" y="1432.5" width="382.3" height="59" fill="#e52421"/>
<rect x="497.7" y="1459.2" width="195.6" height="59" fill="#f39208"/>
<rect x="497.7" y="1530.3" width="195.6" height="59" fill="#e52421"/>
<rect x="497.7" y="1557.0" width="115.6" height="59" fill="#f39208"/>
<rect x="497.7" y="1628.0" width="133.4" height="59" fill="#e52421"/>
<rect x="497.7" y="1654.8" width="44.5" height="59" fill="#f39208"/>
<rect x="497.7" y="1725.8" width="17.8" height="59" fill="#e52421"/>
<rect x="497.7" y="1752.5" width="8.9" height="59" fill="#f39208"/>
<rect x="497.7" y="1823.5" width="62.2" height="59" fill="#e52421"/>
<rect x="497.7" y="1850.2" width="17.8" height="59" fill="#f39208"/>
<rect x="497.7" y="1921.3" width="53.3" height="59" fill="#e52421"/>
<rect x="497.7" y="1948.0" width="26.7" height="59" fill="#f39208"/>
<rect x="497.7" y="2019.0" width="186.7" height="59" fill="#e52421"/>
<rect x="497.7" y="2045.8" width="80.0" height="59" fill="#f39208"/>
<rect x="497.7" y="2116.8" width="8.9" height="59" fill="#e52421"/>
<rect x="497.7" y="2214.6" width="62.2" height="59" fill="#e52421"/>
<rect x="497.7" y="2241.2" width="44.5" height="59" fill="#f39208"/>
<rect x="497.7" y="2312.3" width="133.4" height="59" fill="#e52421"/>
<rect x="497.7" y="2339.0" width="71.1" height="59" fill="#f39208"/>
<text class="lab" transform="translate(398.0 786.6) scale(1.080 1)">Stadt</text>
<text class="lab" transform="translate(398.0 819.0) scale(1.080 1)">Ahrensburg</text>
<text class="num" text-anchor="end" transform="translate(482.2 783.6) scale(1.1 1)">58</text>
<text class="num" transform="translate(506 817.3) scale(1.1 1)">20</text>
<text class="lab" transform="translate(398.0 884.3) scale(1.080 1)">Stadt</text>
<text class="lab" transform="translate(398.0 916.8) scale(1.080 1)">Bad Oldesloe</text>
<text class="num" text-anchor="end" transform="translate(482.2 881.3) scale(1.1 1)">89</text>
<text class="num" transform="translate(506 915.0) scale(1.1 1)">35</text>
<text class="lab" transform="translate(398.0 982.1) scale(1.080 1)">Stadt</text>
<text class="lab" transform="translate(398.0 1014.5) scale(1.080 1)">Bargteheide</text>
<text class="num" text-anchor="end" transform="translate(482.2 979.1) scale(1.1 1)">28</text>
<text class="num" transform="translate(506 1012.8) scale(1.1 1)">14</text>
<text class="lab" transform="translate(398.0 1079.8) scale(1.080 1)">Stadt</text>
<text class="lab" transform="translate(398.0 1112.2) scale(1.080 1)">Glinde</text>
<text class="num" text-anchor="end" transform="translate(482.2 1076.8) scale(1.1 1)">33</text>
<text class="num" transform="translate(506 1110.5) scale(1.1 1)">11</text>
<text class="lab" transform="translate(398.0 1177.6) scale(1.080 1)">Stadt</text>
<text class="lab" transform="translate(398.0 1210.0) scale(1.080 1)">Reinbek</text>
<text class="num" text-anchor="end" transform="translate(482.2 1174.6) scale(1.1 1)">25</text>
<text class="num" transform="translate(506 1208.3) scale(1.1 1)">13</text>
<text class="lab" transform="translate(398.0 1275.3) scale(1.080 1)">Stadt</text>
<text class="lab" transform="translate(398.0 1307.8) scale(1.080 1)">Reinfeld</text>
<text class="num" text-anchor="end" transform="translate(482.2 1272.3) scale(1.1 1)">8</text>
<text class="num" transform="translate(506 1306.0) scale(1.1 1)">2</text>
<text class="lab" transform="translate(398.0 1373.1) scale(1.080 1)">Gemeinde</text>
<text class="lab" transform="translate(398.0 1405.5) scale(1.080 1)">Ammersbek</text>
<text class="num" text-anchor="end" transform="translate(482.2 1370.1) scale(1.1 1)">30</text>
<text class="num" transform="translate(506 1403.8) scale(1.1 1)">8</text>
<text class="lab" transform="translate(398.0 1470.8) scale(1.080 1)">Gemeinde</text>
<text class="lab" transform="translate(398.0 1503.2) scale(1.080 1)">Barsbüttel</text>
<text class="num" text-anchor="end" transform="translate(482.2 1467.8) scale(1.1 1)">43</text>
<text class="num" transform="translate(506 1501.5) scale(1.1 1)">22</text>
<text class="lab" transform="translate(398.0 1568.6) scale(1.080 1)">Gemeinde</text>
<text class="lab" transform="translate(398.0 1601.0) scale(1.080 1)">Großhansdorf</text>
<text class="num" text-anchor="end" transform="translate(482.2 1565.6) scale(1.1 1)">22</text>
<text class="num" transform="translate(506 1599.3) scale(1.1 1)">13</text>
<text class="lab" transform="translate(398.0 1666.3) scale(1.080 1)">Gemeinde</text>
<text class="lab" transform="translate(398.0 1698.8) scale(1.080 1)">Oststeinbek</text>
<text class="num" text-anchor="end" transform="translate(482.2 1663.3) scale(1.1 1)">15</text>
<text class="num" transform="translate(506 1697.0) scale(1.1 1)">5</text>
<text class="lab" transform="translate(398.0 1764.1) scale(1.080 1)">Gemeinde</text>
<text class="lab" transform="translate(398.0 1796.5) scale(1.080 1)">Tangstedt</text>
<text class="num" text-anchor="end" transform="translate(482.2 1761.1) scale(1.1 1)">2</text>
<text class="num" transform="translate(506 1794.8) scale(1.1 1)">1</text>
<text class="lab" transform="translate(398.0 1861.8) scale(1.080 1)">Gemeinde</text>
<text class="lab" transform="translate(398.0 1894.2) scale(1.080 1)">Trittau</text>
<text class="num" text-anchor="end" transform="translate(482.2 1858.8) scale(1.1 1)">7</text>
<text class="num" transform="translate(506 1892.5) scale(1.1 1)">2</text>
<text class="lab" transform="translate(398.0 1959.6) scale(1.080 1)">Amt Bad Oldesloe-</text>
<text class="lab" transform="translate(398.0 1992.0) scale(1.080 1)">Land</text>
<text class="num" text-anchor="end" transform="translate(482.2 1956.6) scale(1.1 1)">6</text>
<text class="num" transform="translate(506 1990.3) scale(1.1 1)">3</text>
<text class="lab" transform="translate(398.0 2057.3) scale(1.080 1)">Amt</text>
<text class="lab" transform="translate(398.0 2089.8) scale(1.080 1)">Bargteheide-Land</text>
<text class="num" text-anchor="end" transform="translate(482.2 2054.3) scale(1.1 1)">21</text>
<text class="num" transform="translate(506 2088.1) scale(1.1 1)">9</text>
<text class="lab" transform="translate(398.0 2155.1) scale(1.080 1)">Amt</text>
<text class="lab" transform="translate(398.0 2187.5) scale(1.080 1)">Nordstormarn</text>
<text class="num" text-anchor="end" transform="translate(482.2 2152.1) scale(1.1 1)">1</text>
<text class="num" transform="translate(506 2185.8) scale(1.1 1)">0</text>
<text class="lab" transform="translate(398.0 2252.9) scale(1.080 1)">Amt Siek</text>
<text class="num" text-anchor="end" transform="translate(482.2 2249.9) scale(1.1 1)">7</text>
<text class="num" transform="translate(506 2283.6) scale(1.1 1)">5</text>
<text class="labb" transform="translate(398.0 2350.6) scale(1.060 1)">Amt Trittau</text>
<text class="labl" transform="translate(398.0 2383.0) scale(1.080 1)">(ohne Gem. Trittau)</text>
<text class="num" text-anchor="end" transform="translate(482.2 2347.6) scale(1.1 1)">15</text>
<text class="num" transform="translate(506 2381.3) scale(1.1 1)">8</text>
<rect x="491" y="694" width="7" height="1728" fill="#000"/>
<use href="#land" fill="#2e6184" stroke="#2e6184" stroke-width="7" stroke-linejoin="round" transform="matrix(1.0193 0 0 1.0151 -11.45 -13.57)"/>
<path d="M2191.6 775.8 L2208.0 776.5 L2249.6 814.0 L2296.0 814.0 L2320.8 847.0 L2365.5 835.4" fill="none" stroke="#000" stroke-width="6.5" stroke-linejoin="miter" stroke-linecap="butt"/>
<path d="M2196.0 1143.0 L2221.4 1108.5 L2251.0 1132.0 L2236.0 1205.0 L2204.0 1204.0 L2249.6 1265.6 L2249.6 1298.7 L2272.8 1281.5 L2330.7 1298.7 L2330.7 1265.6" fill="none" stroke="#000" stroke-width="6.5" stroke-linejoin="miter" stroke-linecap="butt"/>
<path d="M1151.0 1538.5 L1168.0 1562.0 L1135.8 1624.0 L1154.0 1660.7 L1122.5 1680.5 L1106.0 1659.0 L1042.4 1659.0" fill="none" stroke="#000" stroke-width="6.5" stroke-linejoin="miter" stroke-linecap="butt"/>
<use href="#land" fill="#00913a" stroke="#000" stroke-width="7.5" stroke-linejoin="round"/>
<circle cx="1485.5" cy="1684.5" r="29.2" fill="#0b6735"/>
<circle cx="1485.5" cy="1684.5" r="24.2" fill="#fff"/>
<circle cx="1766.0" cy="1136.8" r="33.6" fill="none" stroke="#fff" stroke-width="4.8"/>
<circle cx="1766.0" cy="1136.8" r="26.3" fill="#fff"/>
<circle cx="1527.8" cy="1458.5" r="29.2" fill="#0b6735"/>
<circle cx="1527.8" cy="1458.5" r="24.2" fill="#fff"/>
<circle cx="1420.5" cy="2181.2" r="29.2" fill="#0b6735"/>
<circle cx="1420.5" cy="2181.2" r="24.2" fill="#fff"/>
<circle cx="1494.0" cy="2322.0" r="29.2" fill="#0b6735"/>
<circle cx="1494.0" cy="2322.0" r="24.2" fill="#fff"/>
<circle cx="1985.0" cy="1023.8" r="29.2" fill="#0b6735"/>
<circle cx="1985.0" cy="1023.8" r="24.2" fill="#fff"/>
<circle cx="1337.0" cy="1622.6" r="20" fill="#fff"/>
<circle cx="1327.8" cy="2104.0" r="20" fill="#fff"/>
<circle cx="1581.3" cy="1752.7" r="20" fill="#fff"/>
<circle cx="1352.7" cy="2208.3" r="20" fill="#fff"/>
<circle cx="1167.3" cy="1393.0" r="20" fill="#fff"/>
<circle cx="1829.5" cy="1927.5" r="20" fill="#fff"/>
<circle cx="1581.3" cy="1062.3" r="36" fill="none" stroke="#fff" stroke-width="1.2"/>
<circle cx="1385.0" cy="1262.5" r="36" fill="none" stroke="#fff" stroke-width="1.2"/>
<circle cx="2102.5" cy="853.6" r="36" fill="none" stroke="#fff" stroke-width="1.2"/>
<circle cx="1649.7" cy="1881.0" r="36" fill="none" stroke="#fff" stroke-width="1.2"/>
<circle cx="1985.0" cy="1912.6" r="36" fill="none" stroke="#fff" stroke-width="1.2"/>
<text class="ml" transform="translate(1421.8 1729.6) scale(1.07 1)">Stadt</text>
<text class="ml" transform="translate(1421.8 1751.0) scale(1.07 1)">Ahrensburg</text>
<text class="ml" transform="translate(1846.9 1145.0) scale(1.07 1)">Stadt Bad Oldesloe</text>
<text class="ml" transform="translate(1561.5 1458.0) scale(1.07 1)">Stadt</text>
<text class="ml" transform="translate(1561.5 1479.5) scale(1.07 1)">Bargteheide</text>
<text class="ml" transform="translate(1405.0 2228.0) scale(1.07 1)">Stadt</text>
<text class="ml" transform="translate(1405.0 2250.0) scale(1.07 1)">Glinde</text>
<text class="ml" transform="translate(1513.3 2377.5) scale(1.07 1)">Stadt Reinbek</text>
<text class="ml" transform="translate(2020.2 1031.9) scale(1.07 1)">Stadt Reinfeld</text>
<text class="ml" transform="translate(1200.5 1615.3) scale(1.07 1)">Gemeinde</text>
<text class="ml" transform="translate(1200.5 1637.0) scale(1.07 1)">Ammersbek</text>
<text class="ml" transform="translate(1095.3 2112.5) scale(1.07 1)">Gemeinde Barsbüttel</text>
<text class="ml" transform="translate(1499.5 1790.0) scale(1.07 1)">Gemeinde</text>
<text class="ml" transform="translate(1499.5 1812.0) scale(1.07 1)">Großhansdorf</text>
<text class="ml" transform="translate(1203.5 2220.8) scale(1.07 1)">Gemeinde</text>
<text class="ml" transform="translate(1203.5 2242.6) scale(1.07 1)">Oststeinbek</text>
<text class="ml" transform="translate(1143.5 1437.7) scale(1.07 1)">Gemeinde</text>
<text class="ml" transform="translate(1143.5 1459.6) scale(1.07 1)">Tangstedt</text>
<text class="ml" transform="translate(1747.9 1968.0) scale(1.07 1)">Gemeinde</text>
<text class="ml" transform="translate(1747.9 1989.5) scale(1.07 1)">Trittau</text>
<text class="ml" transform="translate(1575.9 1121.0) scale(1.07 1)">Amt</text>
<text class="ml" transform="translate(1575.9 1142.5) scale(1.07 1)">Bad Oldesloe-</text>
<text class="ml" transform="translate(1575.9 1164.4) scale(1.07 1)">Land</text>
<text class="ml" transform="translate(1318.2 1297.0) scale(1.07 1)">Amt</text>
<text class="ml" transform="translate(1318.2 1318.8) scale(1.07 1)">Bargteheide-</text>
<text class="ml" transform="translate(1318.2 1340.4) scale(1.07 1)">Land</text>
<text class="ml" transform="translate(2047.3 893.4) scale(1.07 1)">Amt</text>
<text class="ml" transform="translate(2047.3 915.0) scale(1.07 1)">Nordstormarn</text>
<text class="ml" transform="translate(1613.5 1935.0) scale(1.07 1)">Amt Siek</text>
<text class="ml" transform="translate(1886.0 1927.5) scale(1.07 1)">Amt Trittau</text>
<text class="nl" x="2247.0" y="754.3">KREIS</text>
<text class="nl" x="2247.0" y="775.8">OSTHOLSTEIN</text>
<text class="nl" x="2285.0" y="884.0">STADT</text>
<text class="nl" x="2285.0" y="906.0">LÜBECK</text>
<text class="nl" x="2090.6" y="1360.7">KREIS</text>
<text class="nl" x="2090.6" y="1382.0">HERZOGTUM</text>
<text class="nl" x="2090.6" y="1403.7">LAUENBURG</text>
<text class="nl" x="1345.0" y="1064.0">KREIS</text>
<text class="nl" x="1345.0" y="1085.5">SEGEBERG</text>
<text class="nl" x="1139.0" y="1723.6">HAMBURG</text>
<g filter="url(#ds)"><rect x="1442.0" y="1347.1" width="40.2" height="348.0" fill="#e52421"/><rect x="1460.4" y="1575.1" width="40.2" height="120.0" fill="#f39208"/></g>
<g filter="url(#ds)"><rect x="1776.6" y="689.1" width="40.2" height="534.0" fill="#e52421"/><rect x="1795.0" y="1013.1" width="40.2" height="210.0" fill="#f39208"/></g>
<g filter="url(#ds)"><rect x="1506.8" y="1274.0" width="40.2" height="168.0" fill="#e52421"/><rect x="1525.2" y="1358.0" width="40.2" height="84.0" fill="#f39208"/></g>
<g filter="url(#ds)"><rect x="1400.5" y="1974.6" width="40.2" height="198.0" fill="#e52421"/><rect x="1418.9" y="2106.6" width="40.2" height="66.0" fill="#f39208"/></g>
<g filter="url(#ds)"><rect x="1488.3" y="2165.6" width="40.2" height="150.0" fill="#e52421"/><rect x="1506.7" y="2237.6" width="40.2" height="78.0" fill="#f39208"/></g>
<g filter="url(#ds)"><rect x="1925.0" y="960.9" width="40.2" height="48.0" fill="#e52421"/><rect x="1943.4" y="996.9" width="40.2" height="12.0" fill="#f39208"/></g>
<g filter="url(#ds)"><rect x="1310.7" y="1434.9" width="40.2" height="180.0" fill="#e52421"/><rect x="1329.1" y="1566.9" width="40.2" height="48.0" fill="#f39208"/></g>
<g filter="url(#ds)"><rect x="1290.9" y="1839.2" width="40.2" height="258.0" fill="#e52421"/><rect x="1309.3" y="1965.2" width="40.2" height="132.0" fill="#f39208"/></g>
<g filter="url(#ds)"><rect x="1545.9" y="1602.1" width="40.2" height="132.0" fill="#e52421"/><rect x="1564.3" y="1656.1" width="40.2" height="78.0" fill="#f39208"/></g>
<g filter="url(#ds)"><rect x="1331.6" y="2109.2" width="40.2" height="90.0" fill="#e52421"/><rect x="1350.0" y="2169.2" width="40.2" height="30.0" fill="#f39208"/></g>
<g filter="url(#ds)"><rect x="1140.0" y="1372.0" width="40.2" height="12.0" fill="#e52421"/><rect x="1158.4" y="1378.0" width="40.2" height="6.0" fill="#f39208"/></g>
<g filter="url(#ds)"><rect x="1781.0" y="1875.2" width="40.2" height="42.0" fill="#e52421"/><rect x="1799.4" y="1905.2" width="40.2" height="12.0" fill="#f39208"/></g>
<g filter="url(#ds)"><rect x="1574.0" y="1025.3" width="40.2" height="36.0" fill="#e52421"/><rect x="1592.4" y="1043.3" width="40.2" height="18.0" fill="#f39208"/></g>
<g filter="url(#ds)"><rect x="1360.4" y="1127.4" width="40.2" height="126.0" fill="#e52421"/><rect x="1378.8" y="1199.4" width="40.2" height="54.0" fill="#f39208"/></g>
<g filter="url(#ds)"><rect x="2053.8" y="842.6" width="40.2" height="6.0" fill="#e52421"/><rect x="2072.2" y="847.9" width="40.2" height="0.7" fill="#f39208" opacity="0.7"/></g>
<g filter="url(#ds)"><rect x="1641.4" y="1847.0" width="40.2" height="42.0" fill="#e52421"/><rect x="1659.8" y="1859.0" width="40.2" height="30.0" fill="#f39208"/></g>
<g filter="url(#ds)"><rect x="1935.0" y="1810.0" width="40.2" height="90.0" fill="#e52421"/><rect x="1953.4" y="1852.0" width="40.2" height="48.0" fill="#f39208"/></g>
<text x="2097" y="2440.4" font-size="40" fill="#000" textLength="342" lengthAdjust="spacingAndGlyphs">Stand 04.05.2021</text>
</g>
</svg></body></html>
